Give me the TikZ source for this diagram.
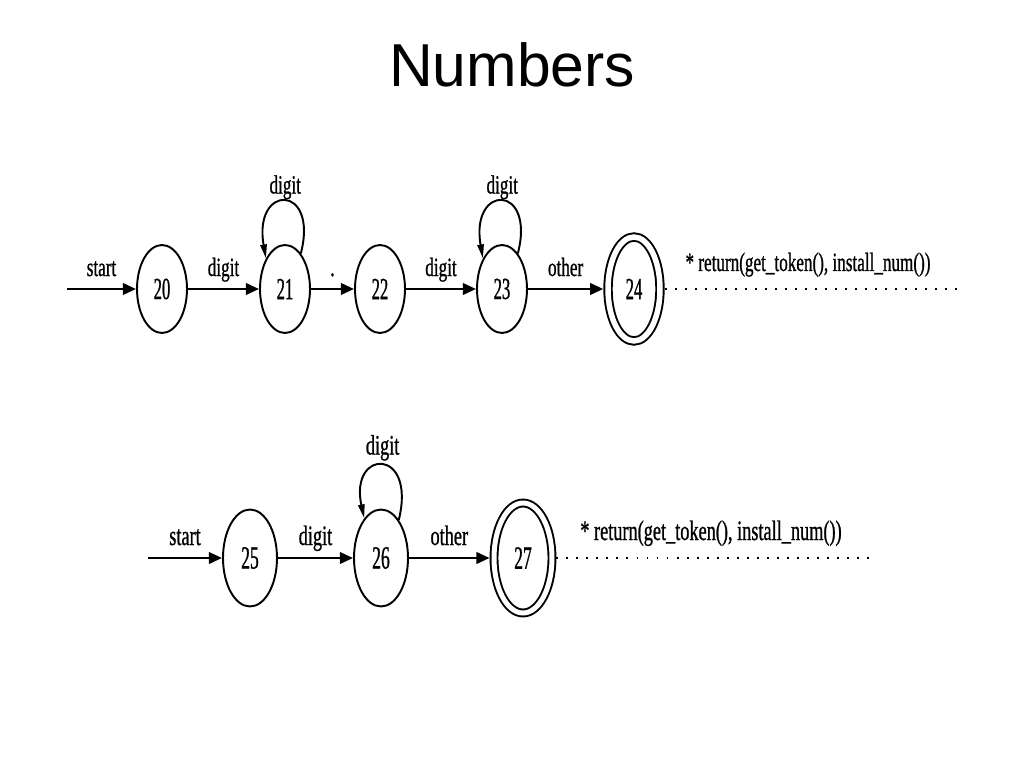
\documentclass[tikz,border=0pt]{standalone}
\usepackage{fontspec}
\setmainfont{Liberation Serif}
\newfontfamily\narrowserif[FakeStretch=0.65, FakeBold=0.8]{Liberation Serif}
\newfontfamily\numserif[FakeStretch=0.54, FakeBold=0.8]{Liberation Serif}
\newfontfamily\titlefont{Liberation Sans}
\usepackage{tikz}
\usetikzlibrary{shapes,arrows,calc,arrows.meta}
\newcommand{\rowafont}{\narrowserif\fontsize{15}{17}\selectfont}
\newcommand{\rowbfont}{\narrowserif\fontsize{16}{18}\selectfont}

\begin{document}
\begin{tikzpicture}[x=0.02cm, y=0.02cm,
  stnode/.style={draw, ellipse, line width=1.1pt, inner sep=0pt, minimum width=1cm, minimum height=1.76cm, font=\numserif\fontsize{17.5}{19}\selectfont},
  acc/.style={stnode, double, double distance=0.11cm, outer sep=2.7pt, minimum width=1.04cm, minimum height=2.08cm},
  trans/.style={line width=1.5pt, -{Triangle[length=7.5pt, width=6.5pt]}},
  selfloop/.style={line width=1.1pt, -{Triangle[length=8pt, width=3.6pt]}},
  lbl/.style={font=\rowafont, anchor=base, inner sep=0pt, yshift=0.26cm},
  note/.style={font=\rowafont, anchor=base, inner sep=0pt},
  dots/.style={line width=1.1pt, dash pattern=on 1.1pt off 4.6pt}]
\useasboundingbox (0,0) rectangle (1024,768);

% Title
\node[font=\titlefont\fontsize{34.5}{40}\selectfont, anchor=base] (ttl) at (512,681) {Numbers};

% First machine
\coordinate (s1) at (67,479);
\node[stnode] (n20) at (162,479) {20};
\node[stnode] (n21) at (285,479) {21};
\node[stnode] (n22) at (380,479) {22};
\node[stnode] (n23) at (502,479) {23};
\node[acc] (n24) at (634,479) {24};
\coordinate (e1) at (958,479);

\draw[trans] (s1) -- (n20) node[lbl, midway] {start};
\draw[trans] (n20) -- (n21) node[lbl, midway] {digit};
\draw[trans] (n21) -- (n22) node[lbl, midway] {.};
\draw[trans] (n22) -- (n23) node[lbl, midway] {digit};
\draw[trans] (n23) -- (n24) node[lbl, midway] {other};
\draw[selfloop] (n21.66) .. controls +(18,70) and +(-13,75) .. (n21.122) node[lbl, pos=0.5, yshift=-0.1cm] {digit};
\draw[selfloop] (n23.66) .. controls +(18,70) and +(-13,75) .. (n23.122) node[lbl, pos=0.5, yshift=-0.1cm] {digit};

% Action
\draw[dots] (n24.east) -- (e1);
\node[note] (act1) at (808,497) {* return(get\_token(), install\_num())};

% Second machine
\begin{scope}[stnode/.append style={minimum width=1.08cm, minimum height=1.94cm, font=\numserif\fontsize{18.5}{20}\selectfont},
  acc/.append style={double distance=0.1cm, outer sep=2.5pt, minimum width=1.16cm, minimum height=2.2cm},
  lbl/.append style={font=\rowbfont}, note/.append style={font=\rowbfont}]
\coordinate (s2) at (148,210);
\node[stnode] (n25) at (250,210) {25};
\node[stnode] (n26) at (381,210) {26};
\node[acc] (n27) at (523,210) {27};
\coordinate (e2) at (870,210);

\draw[trans] (s2) -- (n25) node[lbl, midway] {start};
\draw[trans] (n25) -- (n26) node[lbl, midway] {digit};
\draw[trans] (n26) -- (n27) node[lbl, midway] {other};
\draw[selfloop] (n26.65) .. controls +(18,73) and +(-15,70) .. (n26.113) node[lbl, pos=0.5, yshift=-0.04cm] {digit};

\draw[dots] (n27.east) -- (e2);
\node[note] (act2) at (711,228) {* return(get\_token(), install\_num())};
\end{scope}
\end{tikzpicture}
\end{document}
